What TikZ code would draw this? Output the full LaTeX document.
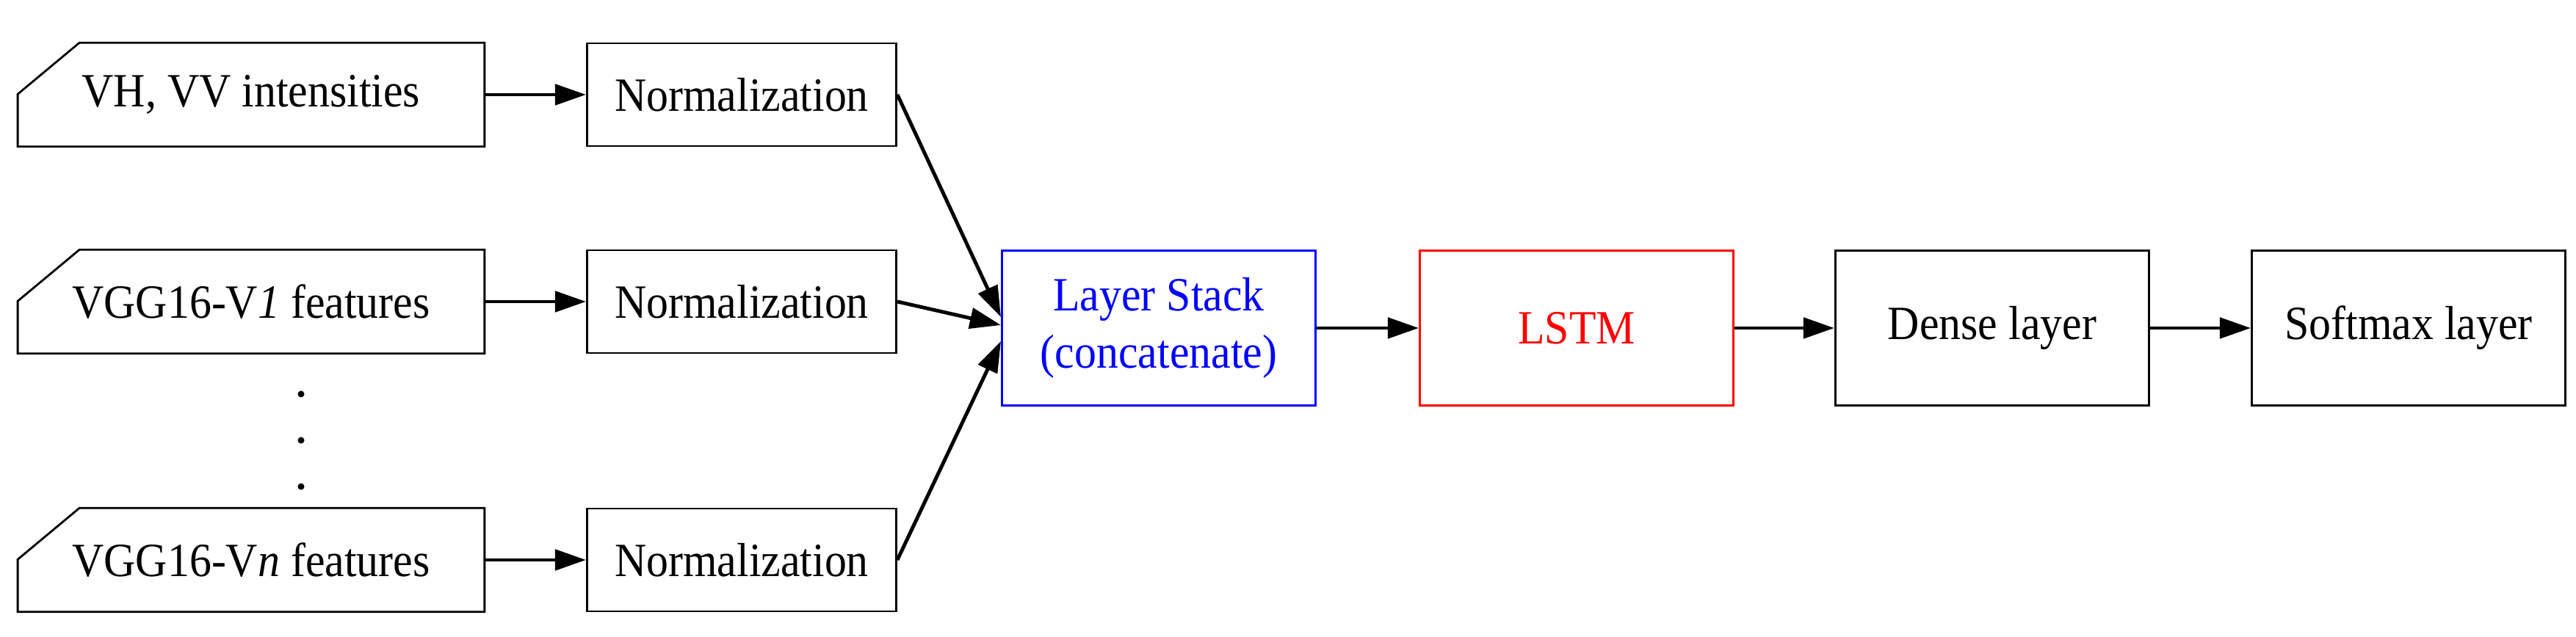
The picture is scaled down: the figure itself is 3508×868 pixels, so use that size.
\documentclass[tikz,border=0pt]{standalone}
\usepackage{fontspec}
\setmainfont{Liberation Serif}[FakeStretch=0.92]
\usetikzlibrary{arrows.meta}
\begin{document}
\begin{tikzpicture}[x=0.01cm,y=-0.01cm,
  box/.style={draw,line width=0.8pt,minimum width=4.21cm,minimum height=1.4cm,inner sep=0,font=\fontsize{18.5}{22}\selectfont},
  inbox/.style={minimum width=6.34cm,minimum height=1.4cm,inner sep=0,font=\fontsize{18.5}{22}\selectfont},
  bigbox/.style={draw,line width=0.8pt,minimum width=4.27cm,minimum height=2.11cm,inner sep=0,font=\fontsize{18.5}{22}\selectfont,align=center},
  arr/.style={line width=1.4pt,-{Triangle[length=12pt,width=8pt]}}]
\useasboundingbox (0,0) rectangle (3508,868);
\foreach \n/\y/\t in {1/129/{VH, VV intensities},2/411/{VGG16-V\textit{1} features},3/763/{VGG16-V\textit{n} features}}{
  \node[inbox] (in\n) at (342,\y) {\t};
  \draw[line width=0.8pt] ([xshift=0.84cm]in\n.north west) -- (in\n.north east) -- (in\n.south east) -- (in\n.south west) -- ([yshift=-0.70cm]in\n.north west) -- cycle;
  \node[box] (nm\n) at (1010,\y) {Normalization};
  \draw[arr] (in\n) -- (nm\n);
}
\foreach \y [count=\i] in {537,600,663}{\fill (410,\y) circle (0.045cm); \coordinate (d\i) at (410,\y);}
\node[bigbox,draw=blue,text=blue] (ls) at (1578,447) {Layer Stack\\(concatenate)};
\node[bigbox,draw=red,text=red] (lstm) at (2147,447) {LSTM};
\node[bigbox] (dense) at (2713,447) {Dense layer};
\node[bigbox] (soft) at (3280,447) {Softmax layer};
\draw[arr] (nm1.east) -- ([yshift=0.15cm]ls.west);
\draw[arr] (nm2.east) -- ([yshift=0.04cm]ls.west);
\draw[arr] (nm3.east) -- ([yshift=-0.18cm]ls.west);
\draw[arr] (ls) -- (lstm);
\draw[arr] (lstm) -- (dense);
\draw[arr] (dense) -- (soft);
\end{tikzpicture}
\end{document}
